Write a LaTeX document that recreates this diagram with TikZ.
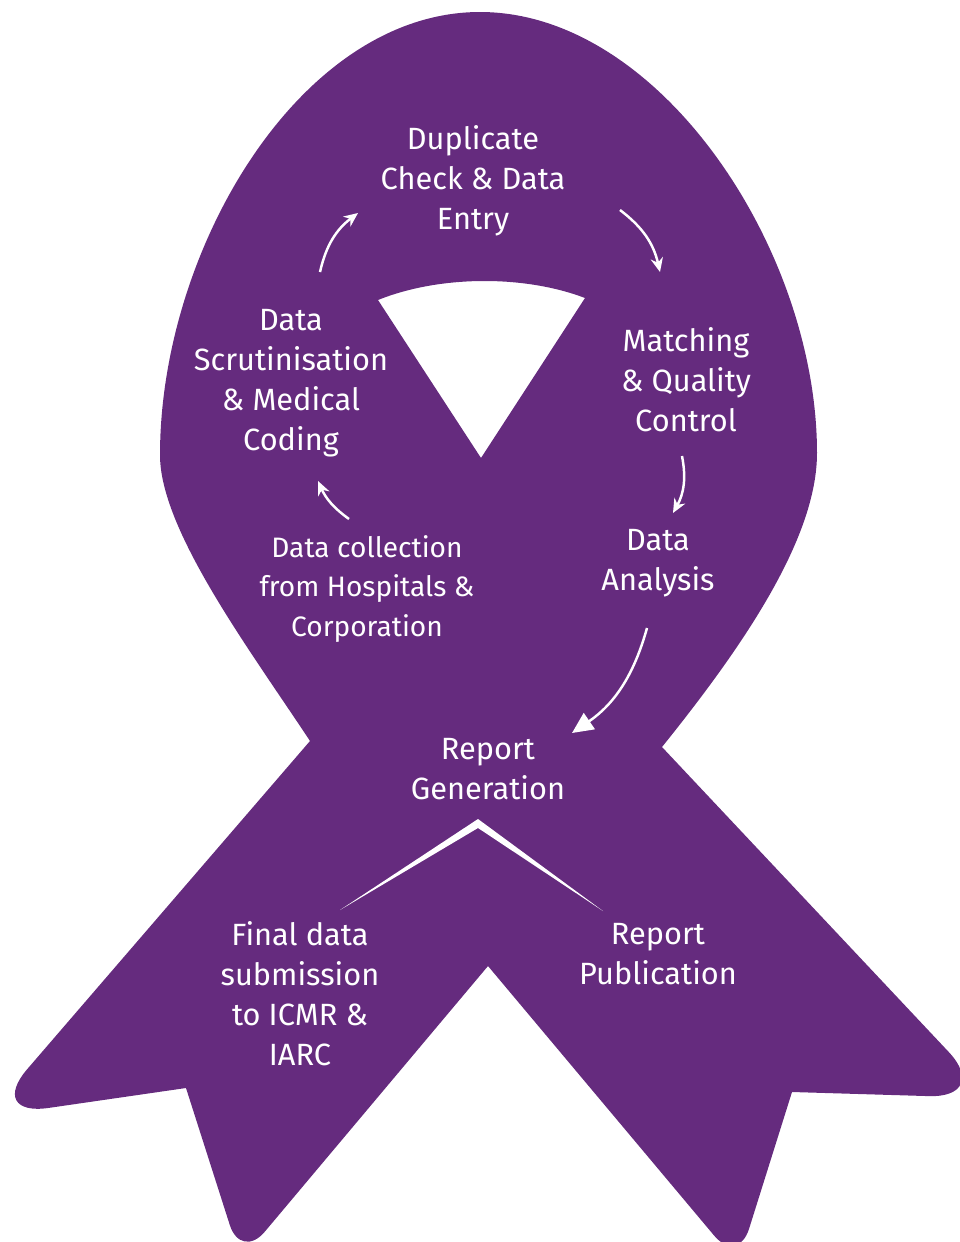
\documentclass[tikz,border=0pt]{standalone}
\usepackage{fontspec}
\setmainfont{Fira Sans}
\usetikzlibrary{arrows.meta,calc}

\definecolor{ribbon}{RGB}{101,43,126}

\begin{document}
\begin{tikzpicture}[x=0.02cm,y=-0.02cm,
    stage/.style={text=white,align=center,inner sep=0pt,
        font=\fontsize{17.5}{22.7}\selectfont},
    smallstage/.style={stage,font=\fontsize{16}{22.7}\selectfont},
    flow/.style={white,line width=1.4pt,-{Stealth[length=8pt,width=7pt]}},
    bigflow/.style={flow,-{Triangle[length=12pt,width=11pt]}}]

\useasboundingbox (0,0) rectangle (960,1242);

    %ribbon
    \fill[ribbon,even odd rule]
        (310,741) .. controls (250,650) and (160,530) .. (160,455)
        .. controls (160,250) and (300,12) .. (480,12)
        .. controls (660,12) and (817,250) .. (817,453)
        .. controls (817,540) and (740,650) .. (662,747)
        [rounded corners=36] -- (992,1098) [sharp corners] -- (792,1092)
        [rounded corners=21] -- (738,1264) [sharp corners] -- (488,966)
        [rounded corners=21] -- (241,1260) [sharp corners] -- (186,1088)
        [rounded corners=36] -- (-14,1117) [sharp corners] -- cycle
        (378,300) .. controls (440,275) and (525,275) .. (585,298)
        -- (481,458) -- cycle;

    %stages
    \node[stage] (dup) at (473,181) {Duplicate\\Check \& Data\\Entry};
    \node[stage] (scrut) at (291,383) {Data\\Scrutinisation\\\& Medical\\Coding};
    \node[stage] (match) at (686,380) {Matching\\\& Quality\\Control};
    \node[stage] (ana) at (658,563) {Data\\Analysis};
    \node[smallstage] (coll) at (367,589) {Data collection\\from Hospitals \&\\Corporation};
    \node[stage] (gen) at (488,769) {Report\\Generation};
    \node[stage] (final) at (300,994) {Final data\\submission\\to ICMR \&\\IARC};
    \node[stage] (pub) at (658,954) {Report\\Publication};

    %cycle arrows
    \draw[flow] ($(coll)+(-18,-70)$) to[bend left=15] ($(scrut)+(27,98)$);
    \draw[flow] ($(scrut)+(29,-111)$) to[bend left=20] ($(dup)+(-115,32)$);
    \draw[flow] ($(dup)+(147,29)$) to[bend left=20] ($(match)+(-26,-108)$);
    \draw[flow] ($(match)+(-4,76)$) to[bend left=20] ($(ana)+(15,-50)$);
    \draw[bigflow] ($(ana)+(-11,65)$) to[bend left=20] ($(gen)+(84,-36)$);

    %fork
    \fill[white] ($(final)+(40,-84)$) -- ($(gen)+(-10,50)$)
        -- ($(pub)+(-55,-43)$) -- ($(gen)+(-10,59)$) -- cycle;
\end{tikzpicture}
\end{document}
